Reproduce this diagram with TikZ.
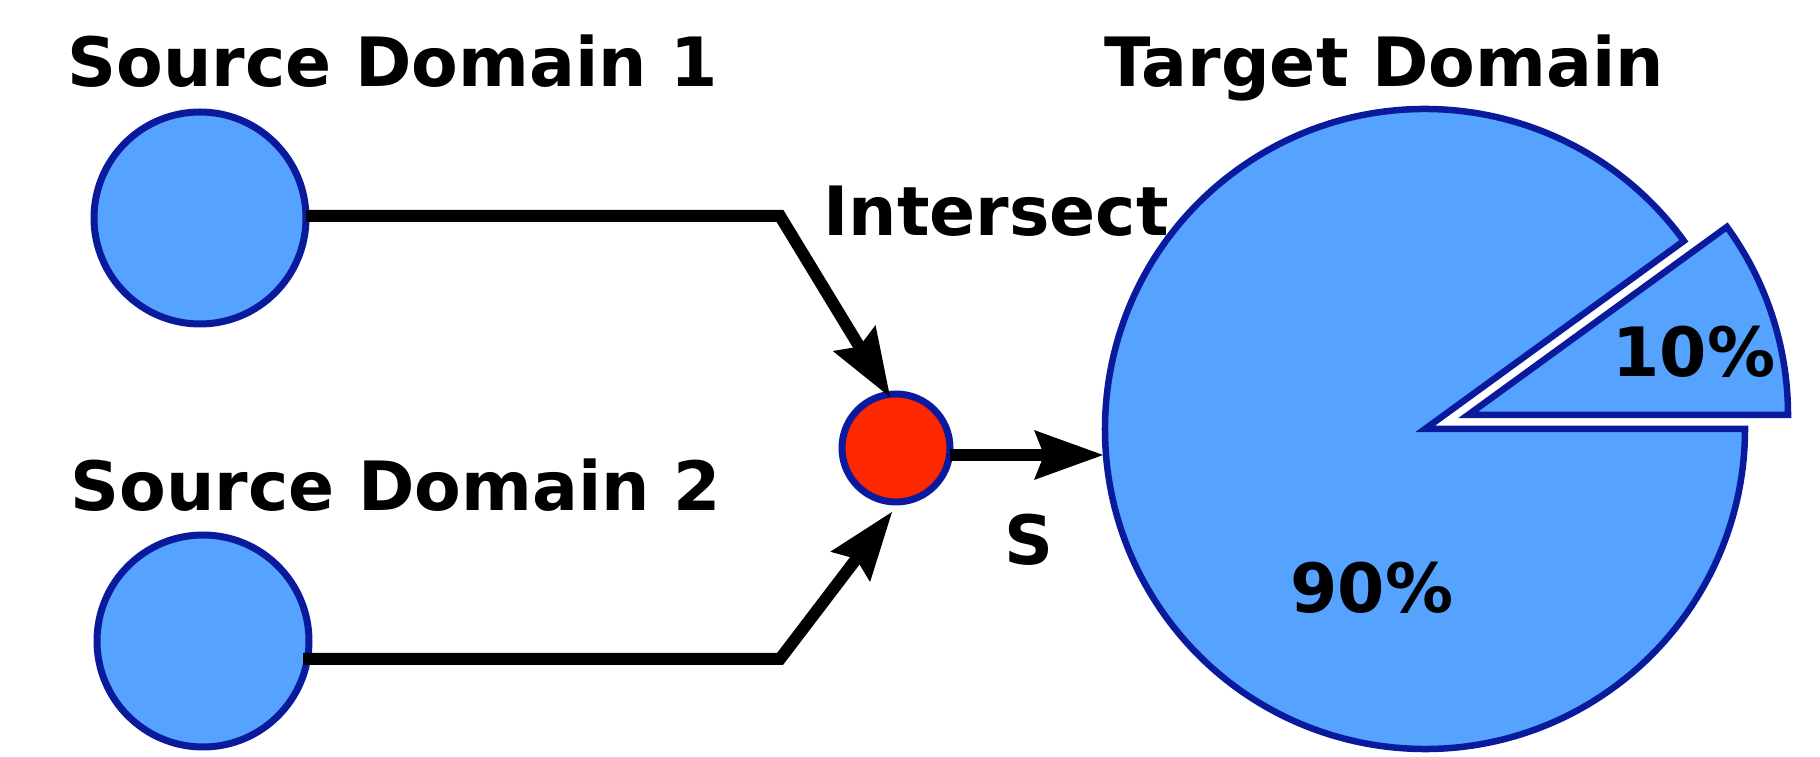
\documentclass[tikz,border=0pt]{standalone}
\usepackage{fontspec}
\setmainfont{DejaVu Sans}
\usetikzlibrary{arrows.meta}
\definecolor{fillblue}{HTML}{55A2FF}
\definecolor{edgeblue}{HTML}{0A1A9C}
\definecolor{redfill}{HTML}{FF2600}
\tikzset{
  domain/.style={circle, fill=fillblue, draw=edgeblue, line width=7pt, inner sep=0pt, minimum size=#1},
  conn/.style={line width=12pt, line join=miter, -{Stealth[length=69pt,width=50pt,inset=10pt,line width=0pt]}},
  lbl/.style={font=\fontsize{68}{80}\selectfont\bfseries, inner sep=0pt, anchor=base},
  slice/.style={fill=fillblue, draw=edgeblue, line width=6.5pt, line join=miter}
}
\begin{document}
\begin{tikzpicture}[x=1pt,y=1pt]
\useasboundingbox (0,0) rectangle (1820,757);
% pie
\coordinate (c) at (1425,328);
\coordinate (a) at (1468,342);
\draw[slice] (c) -- ++(36:320) arc[start angle=36, end angle=360, radius=320] -- cycle;
\draw[slice] (a) -- ++(0:320) arc[start angle=0, end angle=36, radius=320] -- cycle;
% nodes
\node[domain=212] (s1) at (200,539) {};
\node[domain=212] (s2) at (203,116) {};
\node[domain=108, fill=redfill] (m) at (896,309) {};
\coordinate (b1) at (780,541);
\coordinate (b2) at (780,98);
\coordinate (t1) at (890,360);
\coordinate (t2) at (892,245);
\coordinate (s1e) at (306,541);
\coordinate (s2e) at (303,98);
\coordinate (ms) at (950,302);
\coordinate (pl) at (1103,302);
\draw[conn] (s1e) -- (b1) -- (t1);
\draw[conn] (s2e) -- (b2) -- (t2);
\draw[conn] (ms) -- (pl);
% labels
\node[lbl] (l1) at (393,670) {Source Domain 1};
\node[lbl] (l2) at (396,246) {Source Domain 2};
\node[lbl] (lt) at (1384,670) {Target Domain};
\node[lbl] (li) at (996,521) {Intersect};
\node[lbl] (ls) at (1029,192) {S};
\node[lbl] (l10) at (1694,380) {10\%};
\node[lbl] (l90) at (1372,144) {90\%};
\end{tikzpicture}
\end{document}
